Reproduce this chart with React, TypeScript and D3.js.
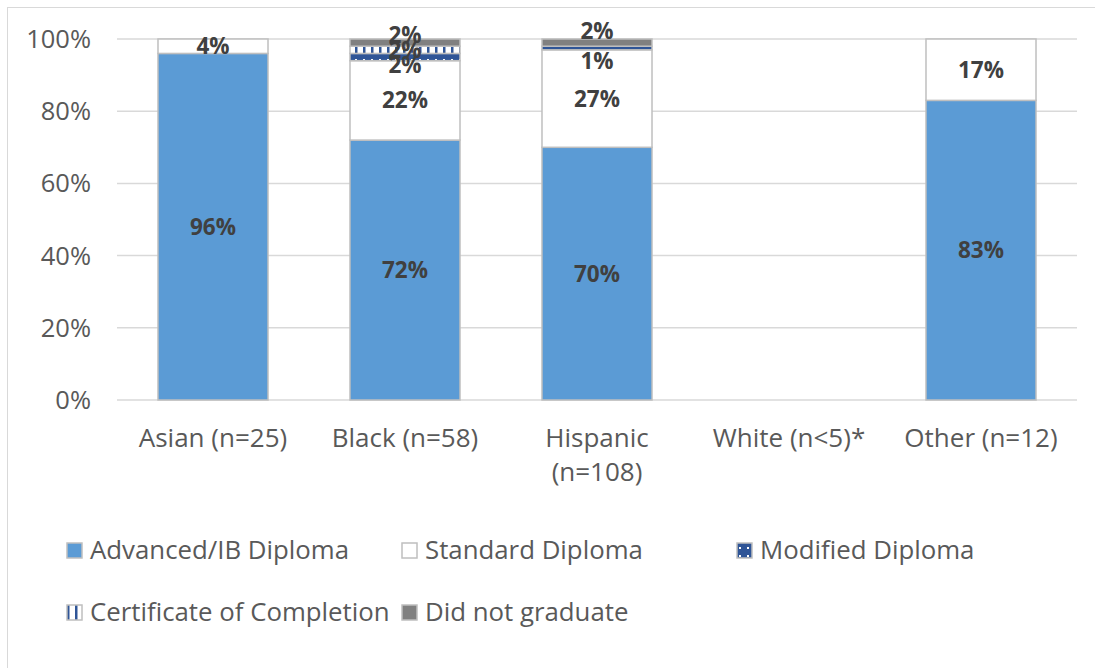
import * as d3 from "d3";

const categories = ["Asian (n=25)", "Black (n=58)", "Hispanic\n(n=108)", "White (n<5)*", "Other (n=12)"];
const seriesNames = [
  "Advanced/IB Diploma",
  "Standard Diploma",
  "Modified Diploma",
  "Certificate of Completion",
  "Did not graduate",
];
// null = no value (no label), 0 = value with hidden label
const advanced = [96, 72, 70, null, 83];
const standard = [4, 22, 27, null, 17];
const modified = [null, 2, 1, null, null];
const certificate = [null, 2, 0, null, null];
const notGraduated = [null, 2, 2, null, null];
const yTicks = [0, 20, 40, 60, 80, 100];

const seriesValues = [advanced, standard, modified, certificate, notGraduated];
const fills = ["#5B9BD5", "#FFFFFF", "url(#dots)", "url(#vlines)", "#808080"];

const W = 1095;
const H = 668;
const FONT = "'Open Sans', sans-serif";

export default function App() {
  const x = d3
    .scaleBand<string>()
    .domain(categories)
    .range([117, 1077])
    .paddingInner(0.427)
    .paddingOuter(0.2135);
  const y = d3.scaleLinear().domain([0, 100]).range([400, 39]);

  // build stacked segments + label positions
  const segs: any[] = [];
  const labels: any[] = [];
  categories.forEach((c, i) => {
    let base = 0;
    const barLabels: any[] = [];
    seriesValues.forEach((vals, s) => {
      const v = vals[i];
      if (v === null) return;
      const y0 = y(base);
      const y1 = y(base + v);
      if (v > 0) segs.push({ c, s, y0, y1 });
      barLabels.push({ c, v, pos: (y0 + y1) / 2, show: v > 0 });
      base += v;
    });
    // spread overlapping labels (like Excel) around their mean
    const gap = 15;
    barLabels.sort((a, b) => a.pos - b.pos);
    let clusters = barLabels.map((l) => ({ items: [l], mean: l.pos }));
    let merged = true;
    while (merged) {
      merged = false;
      for (let k = 0; k < clusters.length - 1; k++) {
        const a = clusters[k];
        const b = clusters[k + 1];
        const aEnd = a.mean + ((a.items.length - 1) * gap) / 2;
        const bStart = b.mean - ((b.items.length - 1) * gap) / 2;
        if (bStart - aEnd < gap) {
          const items = a.items.concat(b.items);
          clusters.splice(k, 2, { items, mean: d3.mean(items, (d: any) => d.pos) as number });
          merged = true;
          break;
        }
      }
    }
    clusters.forEach((cl) => {
      cl.items.forEach((it: any, j: number) => {
        it.ly = cl.mean + (j - (cl.items.length - 1) / 2) * gap;
        if (it.show) labels.push(it);
      });
    });
  });

  const legendPos = [
    [67, 551],
    [402, 551],
    [737, 551],
    [67, 613],
    [402, 613],
  ];

  return (
    <svg
      width={W}
      height={H}
      style={{ position: "absolute", left: 0, top: 0, background: "#fff" }}
      fontFamily={FONT}
    >
      <defs>
        <pattern id="dots" width="8" height="8" patternUnits="userSpaceOnUse">
          <rect width="8" height="8" fill="#2F5597" />
          <rect x="3" y="3" width="2" height="2" fill="#fff" />
        </pattern>
        <pattern id="vlines" width="8" height="8" patternUnits="userSpaceOnUse">
          <rect width="8" height="8" fill="#fff" />
          <rect x="3" y="0" width="2.5" height="8" fill="#2F5597" />
        </pattern>
      </defs>
      <rect x={7.5} y={7.5} width={W + 10} height={H + 10} fill="#fff" stroke="#D9D9D9" />
      {yTicks.map((t) => (
        <g key={t}>
          <line x1={117} x2={1077} y1={y(t)} y2={y(t)} stroke="#D9D9D9" strokeWidth={1.5} />
          <text x={91} y={y(t) + 9} textAnchor="end" fontSize={25.5} fill="#595959">
            {t}%
          </text>
        </g>
      ))}
      {segs.map((d, k) => (
        <rect
          key={k}
          x={x(d.c)!}
          y={d.y1}
          width={x.bandwidth()}
          height={d.y0 - d.y1}
          fill={fills[d.s]}
          stroke="#BFBFBF"
          strokeWidth={1.5}
        />
      ))}
      {labels.map((d, k) => (
        <text
          key={k}
          x={x(d.c)! + x.bandwidth() / 2}
          y={d.ly + 8}
          textAnchor="middle"
          fontSize={22.5}
          fontWeight="bold"
          fill="#404040"
        >
          {d.v}%
        </text>
      ))}
      {categories.map((c) => (
        <text
          key={c}
          x={x(c)! + x.bandwidth() / 2}
          y={447}
          textAnchor="middle"
          fontSize={26}
          fill="#595959"
        >
          {c.split("\n").map((line, j) => (
            <tspan key={j} x={x(c)! + x.bandwidth() / 2} dy={j === 0 ? 0 : 34}>
              {line}
            </tspan>
          ))}
        </text>
      ))}
      {seriesNames.map((n, s) => (
        <g key={n}>
          <rect
            x={legendPos[s][0]}
            y={legendPos[s][1] - 8}
            width={15}
            height={15}
            fill={fills[s]}
            stroke="#BFBFBF"
            strokeWidth={1.5}
          />
          <text x={legendPos[s][0] + 23} y={legendPos[s][1] + 8} fontSize={25.8} fill="#595959">
            {n}
          </text>
        </g>
      ))}
    </svg>
  );
}
